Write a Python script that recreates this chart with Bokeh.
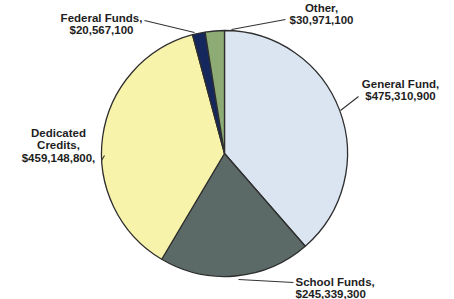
import numpy as np
from bokeh.plotting import figure
from bokeh.models import Range1d, ColumnDataSource
from bokeh.core.properties import value
from bokeh.embed import file_html
from bokeh.resources import INLINE

# Data (clockwise from 12 o'clock)
categories = ["General Fund", "School Funds", "Dedicated Credits", "Federal Funds", "Other"]
amounts = [475310900, 245339300, 459148800, 20567100, 30971100]
colors = ["#dae5f1", "#5c6a67", "#f8f3aa", "#14285e", "#8dab75"]

W, H = 454, 299
p = figure(width=W, height=H, output_backend="svg", toolbar_location=None,
           x_range=Range1d(0, W), y_range=Range1d(0, H), min_border=0)
p.axis.visible = False
p.grid.visible = False
p.outline_line_color = None
p.background_fill_color = "white"

def X(ix):
    return ix
def Y(iy):
    return H - iy

cx, cy, r = X(224), Y(153), 123
fr = np.array(amounts, dtype=float) / sum(amounts)
cum = np.concatenate([[0], np.cumsum(fr)])
start = np.pi / 2 - cum[:-1] * 2 * np.pi
end = np.pi / 2 - cum[1:] * 2 * np.pi
src = ColumnDataSource(dict(start=start, end=end, color=colors, cat=categories))
p.wedge(x=cx, y=cy, radius=r, start_angle="start", end_angle="end", direction="clock",
        fill_color="color", line_color="#2e2e2e", line_width=1.3, source=src)

# leader lines
leaders = [
    ([144, 194], [20, 32]),   # Federal
    ([285, 231], [19, 29]),   # Other
    ([358, 340], [96, 110]),  # General
    ([101, 104], [160, 155]), # Dedicated
    ([293, 238], [282, 279]), # School
]
for xs, ys in leaders:
    p.line([X(v) for v in xs], [Y(v) for v in ys], line_color="#333333", line_width=1.1)

def fmt(v):
    return "${:,}".format(v)

labels = [
    # (lines, anchor x, first line y, align)
    (["Federal Funds,", fmt(amounts[3])], 101, 17, "center"),
    (["Other,", fmt(amounts[4])], 321, 7, "center"),
    (["General Fund,", fmt(amounts[0])], 400, 83, "center"),
    (["Dedicated", "Credits,", fmt(amounts[2]) + ","], 58, 132, "center"),
    (["School Funds,", fmt(amounts[1])], 295, 281, "left"),
]
for lines, ax, ay, al in labels:
    for i, t in enumerate(lines):
        p.text(x=[X(ax)], y=[Y(ay + i * 12.5)], text=[t], text_align=al,
               text_baseline="middle", text_font=value("Liberation Sans"),
               text_font_style="bold", text_font_size="11.5px", text_color="#1e1e1e")

open("out.html", "w").write(file_html(p, INLINE))
